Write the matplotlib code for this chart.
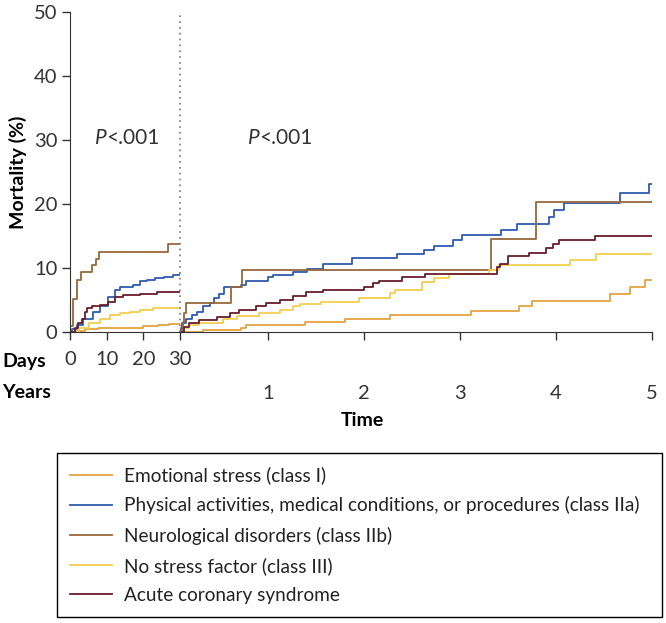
import matplotlib
matplotlib.use("Agg")
import matplotlib.pyplot as plt

plt.rcParams['font.family'] = ['Lato', 'DejaVu Sans']

# first 30 days (x in days)
emo_d_t = [0, 2, 4, 7.5, 20, 24, 27, 30]
emo_d_y = [0, 0.2, 0.5, 0.7, 0.9, 1.1, 1.3, 1.3]
phys_d_t = [0, 0.6, 2, 3.6, 6.4, 8.2, 10.4, 12.3, 13.6, 17.3, 19.1, 20.9, 23.2, 25.5, 28.2, 30]
phys_d_y = [0, 0.4, 1.1, 2.1, 3.2, 4.0, 5.4, 6.6, 7.1, 7.3, 7.9, 8.1, 8.4, 8.6, 8.9, 9.0]
neuro_d_t = [0, 0.9, 2, 2.9, 6, 7.1, 8, 26.8, 30]
neuro_d_y = [1.0, 5.2, 8.1, 9.3, 10.4, 11.4, 12.5, 13.8, 13.8]
none_d_t = [0, 2.4, 5.2, 8.2, 10.9, 13.6, 16.4, 19.1, 22.7, 26.4, 30]
none_d_y = [0, 0.6, 1.4, 2.1, 2.6, 2.9, 3.1, 3.4, 3.7, 3.8, 3.8]
acs_d_t = [0, 1.4, 2.3, 3.2, 4.1, 4.7, 5.9, 8.2, 10.4, 12.3, 14.5, 19.1, 23.7, 30]
acs_d_y = [0, 0.6, 1.4, 2.1, 3.2, 3.7, 4.0, 4.2, 4.7, 5.5, 5.8, 6.0, 6.2, 6.2]

# landmark from 30 days to 5 years (x in years)
emo_y_t = [0.082, 0.32, 0.72, 0.77, 1.38, 1.8, 2.27, 3.11, 3.61, 3.75, 4.56, 4.77, 4.93, 5]
emo_y_y = [0, 0.3, 0.7, 1.1, 1.5, 2.0, 2.6, 3.3, 4.0, 4.8, 5.9, 7.1, 8.2, 8.2]
phys_y_t = [0.082, 0.09, 0.108, 0.143, 0.21, 0.26, 0.32, 0.39, 0.44, 0.49,
            0.54, 0.72, 0.77, 1.0, 1.05, 1.26, 1.41, 1.57, 1.87, 2.34,
            2.62, 2.73, 2.93, 3.02, 3.43, 3.59, 3.93, 3.98, 4.08, 4.67, 4.97, 5]
phys_y_y = [0, 0.7, 1.4, 2.1, 2.7, 3.2, 4.0, 4.5, 5.3, 6.0,
            7.0, 7.3, 7.9, 8.6, 8.9, 9.4, 9.9, 10.7, 11.5, 12.2,
            12.8, 13.4, 14.4, 15.1, 15.9, 16.9, 17.9, 19.0, 20.1, 21.7, 23.2, 23.2]
neuro_y_t = [0.082, 0.11, 0.125, 0.14, 0.61, 0.73, 3.32, 3.79, 5]
neuro_y_y = [0.3, 1.6, 2.9, 4.6, 7.1, 9.7, 14.6, 20.3, 20.3]
none_y_t = [0.082, 0.125, 0.18, 0.28, 0.53, 0.68, 0.91, 1.12, 1.26, 1.33, 1.55,
            1.95, 2.27, 2.32, 2.6, 2.73, 2.89, 3.30, 3.41, 4.15, 4.42, 5]
none_y_y = [0, 0.6, 1.1, 1.4, 2.0, 2.5, 2.9, 3.4, 4.0, 4.4, 4.7,
            5.3, 6.1, 6.6, 7.8, 8.4, 9.0, 9.7, 10.4, 11.25, 12.2, 12.2]
acs_y_t = [0.082, 0.125, 0.18, 0.28, 0.47, 0.6, 0.7, 0.87, 0.98, 1.12, 1.26, 1.40, 1.57,
           2.0, 2.09, 2.16, 2.39, 2.64, 3.38, 3.42, 3.5, 3.72, 3.9, 3.97, 4.03, 4.41, 5]
acs_y_y = [0, 0.8, 1.4, 1.8, 2.4, 2.9, 3.4, 4.0, 4.5, 5.0, 5.6, 6.3, 6.6,
           7.1, 7.6, 8.0, 8.6, 9.1, 10.2, 10.7, 11.8, 12.4, 13.1, 13.75, 14.3, 15.0, 15.0]

labels = ["Emotional stress (class I)",
          "Physical activities, medical conditions, or procedures (class IIa)",
          "Neurological disorders (class IIb)",
          "No stress factor (class III)",
          "Acute coronary syndrome"]
colors = ["#E5A23F", "#2F5BB0", "#98683A", "#F2CF4E", "#6A1B2A"]

days = [(emo_d_t, emo_d_y), (phys_d_t, phys_d_y), (neuro_d_t, neuro_d_y),
        (none_d_t, none_d_y), (acs_d_t, acs_d_y)]
years = [(emo_y_t, emo_y_y), (phys_y_t, phys_y_y), (neuro_y_t, neuro_y_y),
         (none_y_t, none_y_y), (acs_y_t, acs_y_y)]

fig = plt.figure(figsize=(6.66, 6.23), dpi=100)
W, H = 666, 623
ax1 = fig.add_axes([70/W, 1-332/H, 110/W, 320/H])
ax2 = fig.add_axes([180/W, 1-332/H, 472/W, 320/H])

txt_c = "#333333"
lw = 1.3
for (t, y), c in zip(days, colors):
    ax1.step(t, y, where="post", color=c, lw=lw)
for (t, y), c, lab in zip(years, colors, labels):
    ax2.step(t, y, where="post", color=c, lw=lw, label=lab)

for ax in (ax1, ax2):
    ax.set_ylim(0, 50)
    ax.spines['top'].set_visible(False)
    ax.spines['right'].set_visible(False)
    ax.spines['bottom'].set_color(txt_c)
    ax.spines['left'].set_color(txt_c)
    ax.set_facecolor("none")
    ax.tick_params(colors=txt_c, length=6, width=1, labelsize=14.5)

ax1.set_xlim(0, 30)
ax1.set_xticks([0, 10, 20, 30])
ax1.set_yticks([0, 10, 20, 30, 40, 50])
ax1.tick_params(axis='x', pad=8)
ax1.tick_params(axis='y', pad=3)
ax1.set_ylabel("Mortality (%)", fontsize=14, fontweight="bold", labelpad=5)

ax2.set_xlim(30/365.25, 5)
ax2.set_xticks([1, 2, 3, 4, 5])
ax2.spines['left'].set_visible(False)
ax2.set_yticks([])
ax2.tick_params(axis='x', pad=32)
ax2.axvline(30/365.25, ymax=0.995, color="#777777", lw=1.2, ls=(0, (1, 2.5)), clip_on=False)

# P values
for ax, x in ((ax1, 6.8), (ax2, 0.79)):
    ax.text(x, 30.3, "P", style="italic", fontsize=15, va="center", color=txt_c)
    ax.annotate("<.001", xy=(x, 30.3), xytext=(8, 0), textcoords="offset points",
                fontsize=15, va="center", color=txt_c)

fig.text(2/W, 1-362/H, "Days", fontsize=14, fontweight="bold", va="center")
fig.text(2/W, 1-392/H, "Years", fontsize=14, fontweight="bold", va="center")
fig.text(362/W, 1-420/H, "Time", fontsize=14, fontweight="bold", va="center", ha="center")

leg = fig.legend(loc="upper left", bbox_to_anchor=(57/W, 1-453/H, 605/W, 0), mode="expand",
                 fontsize=13.7, frameon=True, fancybox=False, edgecolor="black", framealpha=1,
                 handlelength=2.2, handletextpad=0.6, labelspacing=0.64, borderpad=0.7,
                 borderaxespad=0)
leg.get_frame().set_linewidth(1.0)
for txt in leg.get_texts():
    txt.set_color("#222222")

fig.savefig("out.png", dpi=100)
